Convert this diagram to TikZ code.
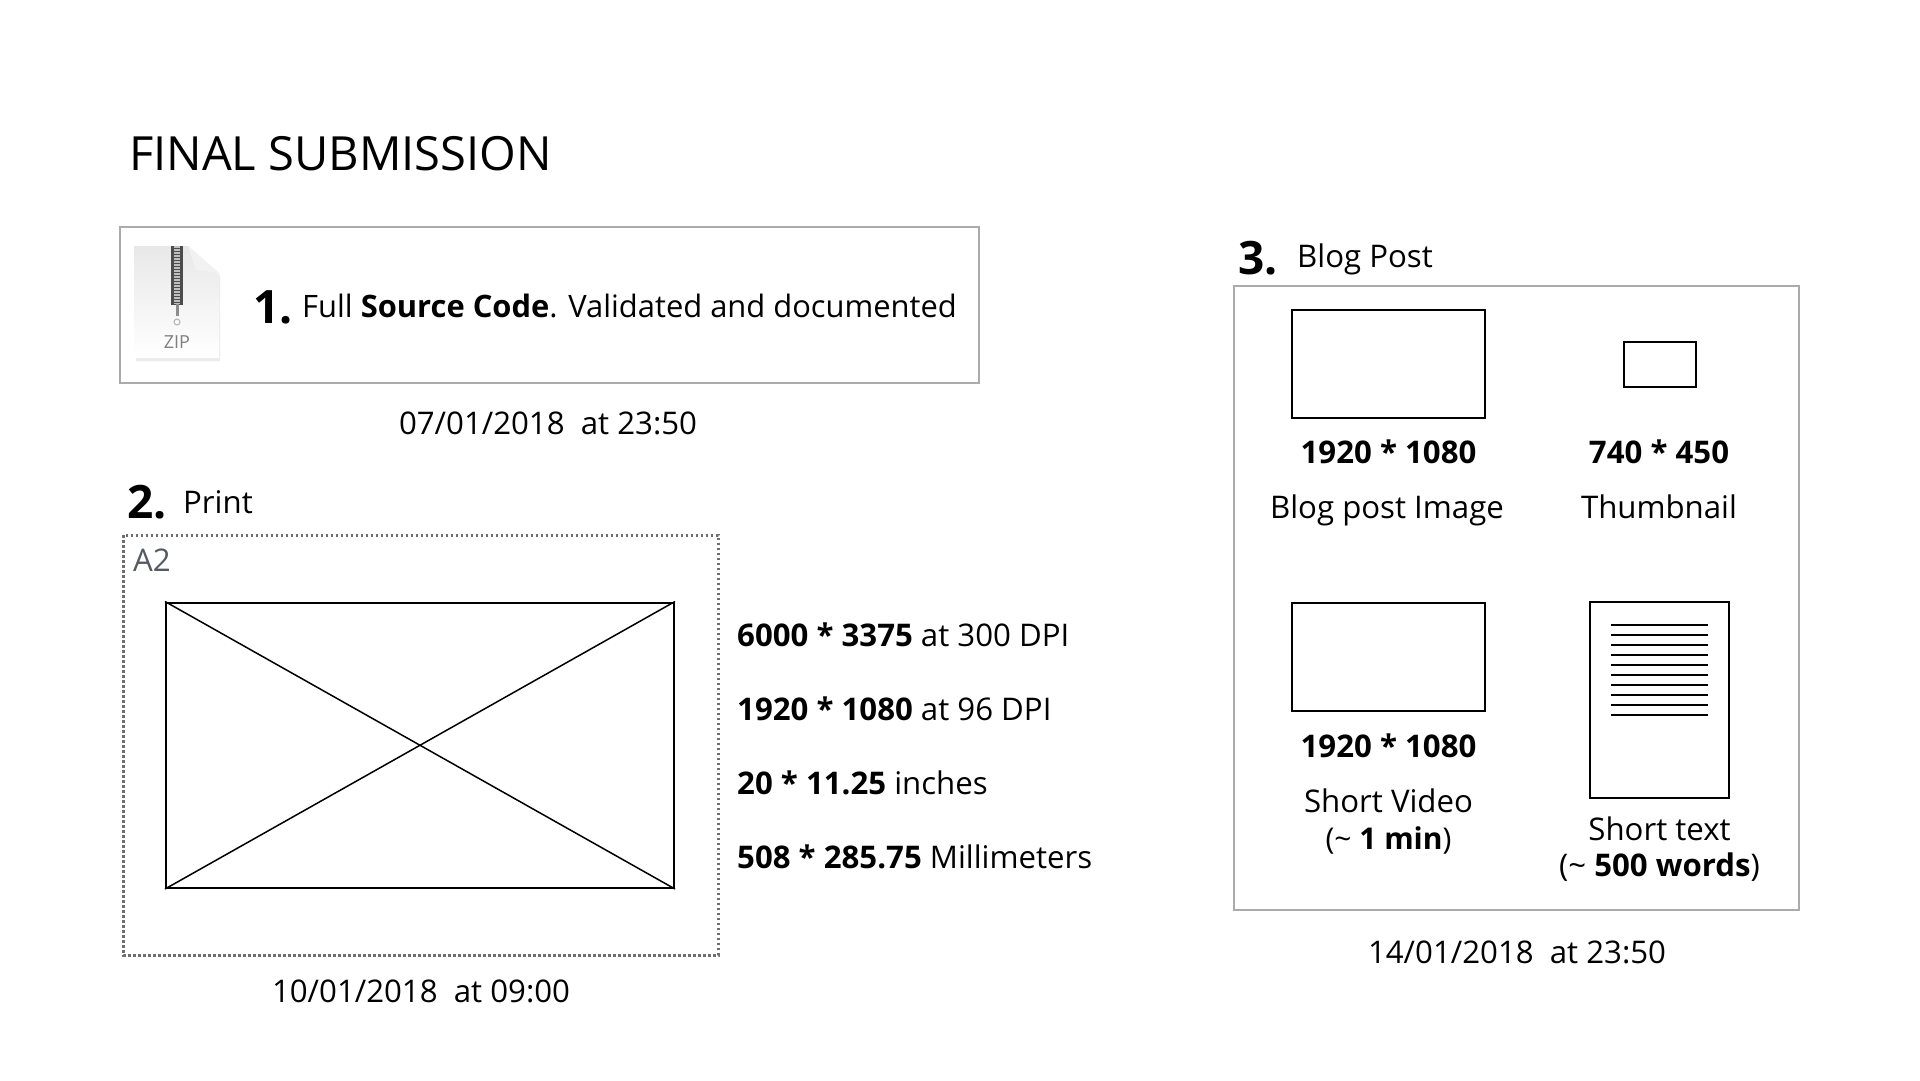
\documentclass[tikz,border=0pt]{standalone}
\usepackage{fontspec}
\setmainfont{Open Sans}
\definecolor{framegray}{HTML}{ABABAB}
\definecolor{dotgray}{HTML}{6E6E6E}
\definecolor{labelgray}{HTML}{555A60}
\newcommand{\txt}[1]{\fontsize{#1}{#1}\selectfont}
\tikzset{
    label/.style={inner sep=0pt, anchor=base west, font=\txt{31.2}},
    mid/.style={inner sep=0pt, anchor=base, font=\txt{31.2}, align=center},
    num/.style={inner sep=0pt, anchor=base west, font=\txt{46}\bfseries},
    frame/.style={draw=framegray, line width=2pt},
    sheet/.style={draw=black, line width=2pt}
}
\begin{document}
\begin{tikzpicture}[x=1pt,y=-1pt]
    \useasboundingbox (0,0) rectangle (1920,1080);
    \node[label, font=\txt{47.1}](title) at (129,170){FINAL SUBMISSION};
    % 1. source code
    \draw[frame] (119.5,227) rectangle (979,383);
    \fill[black!8] (136,250) -- (190,250) -- (220,276) -- (220,361) -- (136,361) -- cycle;
    \shade[top color=black!9, bottom color=white] (134,246) -- (188,246) -- (219,273) -- (219,358) -- (134,358) -- cycle;
    \fill[black!5] (188,246) -- (219,273) -- (196,270) -- cycle;
    \fill[black!70] (171,246) rectangle (183,305);
    \draw[black!25, line width=6pt, dash pattern=on 1.5pt off 1.5pt] (177,246) -- (177,304);
    \draw[black!45, line width=3pt] (177,304) -- (177,316);
    \draw[black!30, line width=1pt] (177,322) circle (3);
    \node[inner sep=0pt, anchor=base, text=black!50, font=\txt{18}](zip) at (177,348){ZIP};
    \node[num](one) at (253,323){1.};
    \node[label, font=\txt{30.9}](source) at (302,317){Full \textbf{Source Code}. Validated and documented};
    \node[mid](dateone) at (548,434.5){07/01/2018\ \ at 23:50};
    % 2. print
    \node[num](two) at (127,518){2.};
    \node[label](print) at (183,513.5){Print};
    \draw[draw=dotgray, line width=3pt, dash pattern=on 2.5pt off 2.5pt] (123,535) rectangle (718,955);
    \node[label, text=labelgray](atwo) at (133,571){A2};
    \node[sheet, inner sep=0pt, minimum width=508pt, minimum height=285.5pt](poster) at (420,745.25){};
    \draw[line width=1.5pt] (poster.north west) -- (poster.south east);
    \draw[line width=1.5pt] (poster.north east) -- (poster.south west);
    \node[label](sizea) at (737,646){\textbf{6000 * 3375} at 300 DPI};
    \node[label](sizeb) at (737,720){\textbf{1920 * 1080} at 96 DPI};
    \node[label](sizec) at (737,794){\textbf{20 * 11.25} inches};
    \node[label](sized) at (737,868){\textbf{508 * 285.75} Millimeters};
    \node[mid](datetwo) at (421,1002.5){10/01/2018\ \ at 09:00};
    % 3. blog post
    \node[num](three) at (1238,274){3.};
    \node[label](blog) at (1297,267){Blog Post};
    \draw[frame] (1233.5,285.5) rectangle (1799,910);
    \node[sheet, inner sep=0pt, minimum width=193pt, minimum height=107.5pt](image) at (1388.5,363.75){};
    \node[sheet, inner sep=0pt, minimum width=72pt, minimum height=45pt](thumb) at (1660,364){};
    \node[sheet, inner sep=0pt, minimum width=193pt, minimum height=108.5pt](video) at (1388.5,656.75){};
    \node[sheet, inner sep=0pt, minimum width=139pt, minimum height=196pt](page) at (1659.5,699.75){};
    \foreach \row in {0,...,9}
        \draw[line width=1.5pt] (1611,625+10*\row) -- (1708,625+10*\row);
    \node[mid, font=\txt{31.2}\bfseries](imagesize) at (1388.5,463){1920 * 1080};
    \node[mid, font=\txt{31.2}\bfseries](thumbsize) at (1659,463){740 * 450};
    \node[mid](imagename) at (1387,518){Blog post Image};
    \node[mid](thumbname) at (1659,518){Thumbnail};
    \node[mid, font=\txt{31.2}\bfseries](videosize) at (1388.5,757){1920 * 1080};
    \node[mid](videoname) at (1388.5,812){Short Video};
    \node[mid, font=\txt{30}](videolen) at (1388.5,849){(\textasciitilde{} \textbf{1 min})};
    \node[mid](pagename) at (1659.5,840){Short text};
    \node[mid](pagelen) at (1659.5,876){(\textasciitilde{} \textbf{500 words})};
    \node[mid](datethree) at (1517,963){14/01/2018\ \ at 23:50};
\end{tikzpicture}
\end{document}
